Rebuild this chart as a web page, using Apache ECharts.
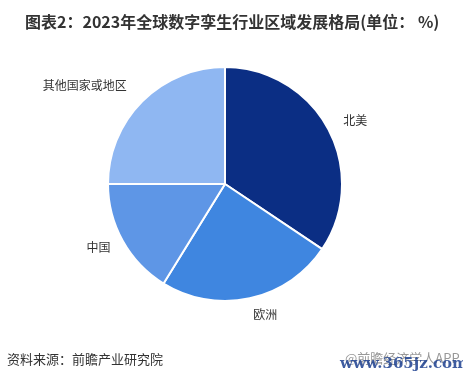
<!DOCTYPE html>
<html>
<head>
<meta charset="utf-8">
<style>
  html, body { margin: 0; padding: 0; background: #ffffff; }
  #chart { width: 463px; height: 384px; }
</style>
<script src="https://cdn.jsdelivr.net/npm/echarts@6/dist/echarts.min.js"></script>
</head>
<body>
<div id="chart"></div>
<script>
// 2023 global digital twin industry: regional share (%)
const regions = ['北美', '欧洲', '中国', '其他国家或地区'];
const shares = [34.4, 24.4, 16.2, 25.0];

const titleText = '图表2：2023年全球数字孪生行业区域发展格局(单位： %)';
const sourceText = '资料来源：前瞻产业研究院';
const brandText = '@前瞻经济学人APP';
const siteText = 'www.365jz.com';

const palette = ['#0b2e84', '#3f86e0', '#5e96e6', '#8fb7f2'];
const labelLineLengths = [17, 16, 14, 22];

const cjk = '"Noto Sans CJK SC", "Noto Sans", sans-serif';

const chart = echarts.init(document.getElementById('chart'), null, { renderer: 'canvas' });

chart.setOption({
  backgroundColor: '#ffffff',
  animation: false,
  title: {
    text: titleText,
    left: 20,
    top: 9,
    textStyle: { fontFamily: cjk, fontSize: 16, fontWeight: 'bold', color: '#333333' }
  },
  graphic: [
    {
      type: 'text', left: 7, top: 353,
      style: { text: sourceText, fontFamily: cjk, fontSize: 13, fill: '#333333' }
    },
    {
      type: 'text', left: 345, top: 352,
      style: { text: brandText, fontFamily: cjk, fontSize: 13, fill: '#999999' }
    },
    {
      type: 'text', left: 340, top: 357,
      style: { text: siteText, fontFamily: '"DejaVu Serif", "Liberation Serif", serif', fontSize: 15, fontWeight: 'bold', fill: '#1c3f8f', opacity: 0.85 }
    }
  ],
  series: [{
    type: 'pie',
    center: [225, 184],
    radius: 117,
    startAngle: 90,
    clockwise: true,
    avoidLabelOverlap: false,
    itemStyle: { borderColor: '#ffffff', borderWidth: 2 },
    label: {
      show: true,
      position: 'outside',
      formatter: '{b}',
      fontFamily: cjk,
      fontSize: 12,
      color: '#333333',
      distanceToLabelLine: 0
    },
    labelLine: { show: false, length: 17, length2: 0 },
    emphasis: { disabled: true },
    data: regions.map((name, i) => ({
      name: name,
      value: shares[i],
      itemStyle: { color: palette[i] },
      labelLine: { show: false, length: labelLineLengths[i], length2: 0 }
    }))
  }]
});
</script>
</body>
</html>
